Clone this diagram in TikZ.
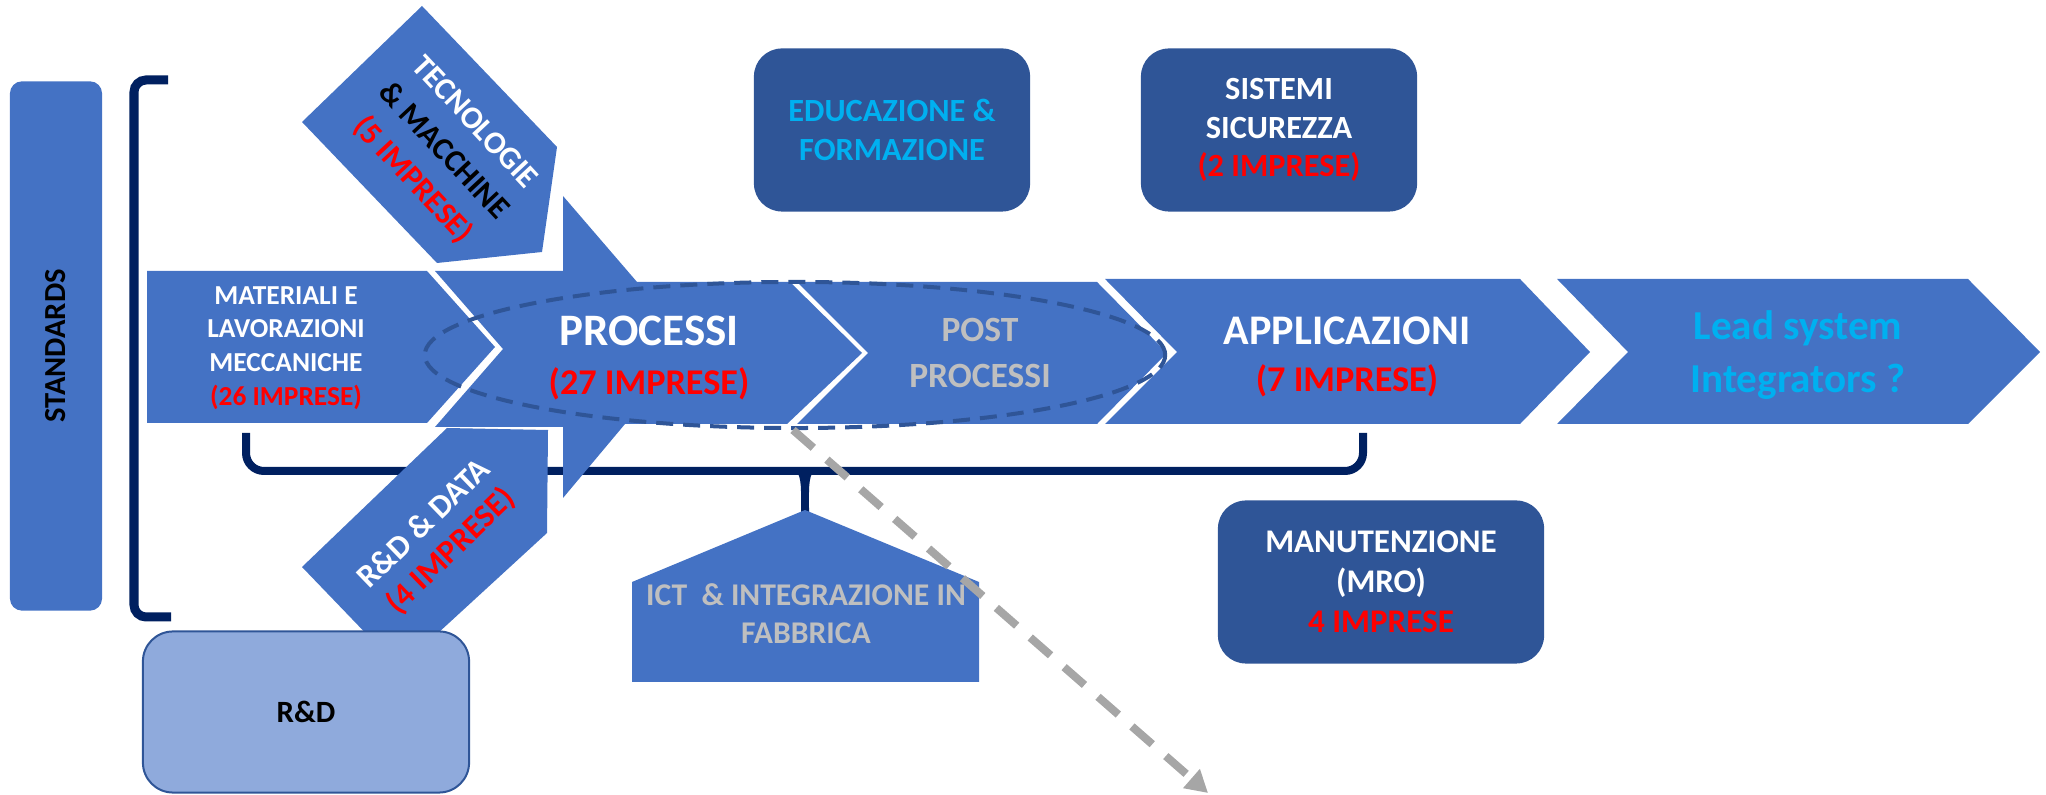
\documentclass[tikz,border=0pt]{standalone}
\usepackage{fontspec}
\setmainfont{Carlito}
\usetikzlibrary{positioning, arrows.meta}
\definecolor{blu}{HTML}{4472C4}
\definecolor{dblu}{HTML}{2F5597}
\definecolor{navy}{HTML}{002060}
\definecolor{lblu}{HTML}{8FAADC}
\definecolor{ciano}{HTML}{00B0F0}
\definecolor{gry}{HTML}{BFBFBF}
\definecolor{dgry}{HTML}{A6A6A6}
\definecolor{rosso}{HTML}{FF0000}

\begin{document}
\begin{tikzpicture}[x=0.01cm, y=-0.01cm,
  brk/.style={draw=navy, line width=0.09cm, rounded corners=0.12cm},
  txt/.style={align=center, inner sep=0, text=white},
  sml/.style={txt, font=\bfseries\fontsize{7.8}{9.6}\selectfont},
  mid/.style={txt, font=\bfseries\fontsize{9.2}{11}\selectfont},
  big/.style={txt, font=\bfseries\fontsize{12}{15}\selectfont},
  cnt/.style={txt, text=rosso, font=\bfseries\fontsize{10.3}{12}\selectfont},
  dbox/.style={mid, fill=dblu, rounded corners=0.28cm, minimum width=2.76cm, minimum height=1.63cm},
  stdbox/.style={txt, text=black, fill=blu, rounded corners=0.12cm, minimum width=5.29cm, minimum height=0.92cm, font=\bfseries\fontsize{8.7}{10}\selectfont},
  ell/.style={draw=dblu, line width=0.04cm, dash pattern=on 0.17cm off 0.1cm},
  garr/.style={draw=dgry, line width=0.08cm, dash pattern=on 0.27cm off 0.18cm, -{Triangle[length=0.22cm, width=0.24cm]}, dgry}]
\useasboundingbox (0,0) rectangle (2046,795);

\draw[brk] (168,80) -- (134,80) -- (134,617) -- (171,617);
\draw[brk, line width=0.08cm, rounded corners=0.18cm] (246,433) -- (246,471) -- (1363,471) -- (1363,433);
\coordinate (ictTop) at (805,510);
\fill[navy] (796,471) .. controls (802,476) and (801,492) .. (801,512) -- (809,512) .. controls (809,492) and (808,476) .. (814,471) -- cycle;

\node[stdbox, rotate=90] (std) at (56,346) {STANDARDS};

\fill[blu] (147,271) -- (427,271) -- (495,347) -- (427,423) -- (147,423) -- cycle;
\fill[blu] (435,271) -- (563,271) -- (563,196) -- (637,282) -- (790,282) -- (862,353) -- (787,424) -- (625,424) -- (563,498) -- (563,427) -- (435,427) -- (503,349) -- cycle;
\fill[blu] (797,282) -- (1097,282) -- (1167,353) -- (1097,424) -- (797,424) -- (868,353) -- cycle;
\fill[blu] (1105,279) -- (1520,279) -- (1590,352) -- (1520,424) -- (1105,424) -- (1177,352) -- cycle;
\fill[blu] (1557,279) -- (1968,279) -- (2040,352) -- (1968,424) -- (1557,424) -- (1628,352) -- cycle;
\fill[blu] (422,6) -- (557,147) -- (542,252) -- (437,263) -- (302,122) -- cycle;
\fill[blu] (302,567) -- (447,428) -- (548,430) -- (547,533) -- (425,645) -- (377,645) -- cycle;
\fill[blu] (632,582) -- (ictTop) -- (979,582) -- (979,682) -- (632,682) -- cycle;

\node[sml] (mat) at (286,348) {MATERIALI E\\LAVORAZIONI\\MECCANICHE\\\textcolor{rosso}{(26 IMPRESE)}};
\node[big, font=\bfseries\fontsize{12.8}{15}\selectfont] (proc) at (649,331) {PROCESSI};
\node[cnt, below=0.2cm of proc] (procn) {(27 IMPRESE)};
\node[txt, text=gry, font=\bfseries\fontsize{10.1}{13}\selectfont] (post) at (980,353) {POST\\PROCESSI};
\node[big] (appl) at (1347,331) {APPLICAZIONI};
\node[cnt, below=0.18cm of appl] (appln) {(7 IMPRESE)};
\node[big, text=ciano, font=\bfseries\fontsize{11.7}{15}\selectfont] (lead) at (1798,355) {Lead system\\Integrators ?};
\node[txt, text=black, rotate=-47, font=\bfseries\fontsize{9}{12}\selectfont] (tec) at (443,152) {\textcolor{white}{TECNOLOGIE}\\\& MACCHINE\\\textcolor{rosso}{(5 IMPRESE)}};
\node[txt, rotate=44, font=\bfseries\fontsize{9.3}{10.8}\selectfont] (rdd) at (438,538) {R\&D \& DATA\\\textcolor{rosso}{(4 IMPRESE)}};
\node[txt, text=gry, font=\bfseries\fontsize{9}{10.8}\selectfont] (ict) at (806,614) {ICT\ \ \& INTEGRAZIONE IN\\FABBRICA};

\node[dbox, text=ciano] (edu) at (892,130) {EDUCAZIONE \&\\FORMAZIONE};
\node[dbox] (sis) at (1279,130) {SISTEMI\\SICUREZZA\\\textcolor{rosso}{(2 IMPRESE)}};
\node[dbox, minimum width=3.26cm, font=\bfseries\fontsize{9.4}{11.4}\selectfont] (mro) at (1381,582) {MANUTENZIONE\\(MRO)\\\textcolor{rosso}{4 IMPRESE}};
\node[dbox, fill=lblu, draw=dblu, line width=0.02cm, text=black, rounded corners=0.3cm, minimum width=3.26cm, minimum height=1.61cm, font=\bfseries\fontsize{8.8}{10}\selectfont] (rd) at (306,712) {R\&D};

\draw[ell] (795,355) ellipse [x radius=3.7cm, y radius=0.73cm];
\coordinate (a0) at (793,430);
\coordinate (a1) at (1208,793);
\draw[garr] (a0) -- (a1);
\end{tikzpicture}
\end{document}
